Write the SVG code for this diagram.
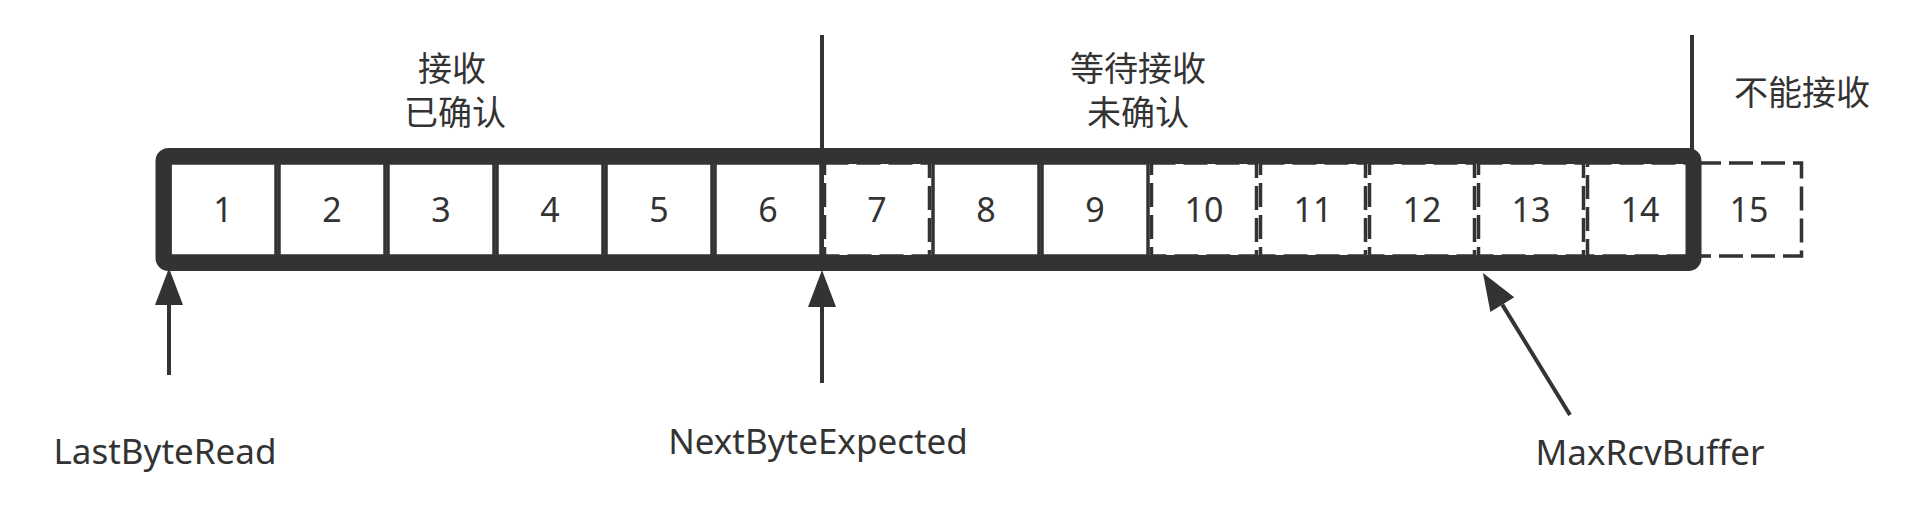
<svg xmlns="http://www.w3.org/2000/svg" width="1906" height="514" viewBox="0 0 1906 514">
<style>
  .cell{fill:#ffffff;stroke:#333333;stroke-width:3.5}
  .dash{stroke-dasharray:24 8}
  .num{font-family:"Noto Sans","Noto Sans CJK SC",sans-serif;font-size:34px;fill:#333333;text-anchor:middle}
  .cjk{font-family:"Liberation Sans","Noto Sans CJK SC",sans-serif;font-size:34px;fill:#333333;text-anchor:middle}
  .lbl{font-family:"Noto Sans","Noto Sans CJK SC",sans-serif;font-size:35px;fill:#333333;text-anchor:middle}
  .ln{stroke:#333333;stroke-width:4;fill:none}
  .arr{stroke:#333333;stroke-width:4;fill:none;marker-end:url(#head)}
</style>
<defs>
  <marker id="head" markerUnits="userSpaceOnUse" markerWidth="40" markerHeight="30" refX="0" refY="14" orient="auto" overflow="visible">
    <path d="M0,0 L37,14 L0,28 Z" fill="#333333"/>
  </marker>
</defs>
<rect width="1906" height="514" fill="#ffffff"/>

<g id="cells">
  <g id="cell1"><rect class="cell" x="170" y="163" width="106" height="93"/><text class="num" x="223" y="222">1</text></g>
  <g id="cell2"><rect class="cell" x="279" y="163" width="106" height="93"/><text class="num" x="332" y="222">2</text></g>
  <g id="cell3"><rect class="cell" x="388" y="163" width="106" height="93"/><text class="num" x="441" y="222">3</text></g>
  <g id="cell4"><rect class="cell" x="497" y="163" width="106" height="93"/><text class="num" x="550" y="222">4</text></g>
  <g id="cell5"><rect class="cell" x="606" y="163" width="106" height="93"/><text class="num" x="659" y="222">5</text></g>
  <g id="cell6"><rect class="cell" x="715" y="163" width="106" height="93"/><text class="num" x="768" y="222">6</text></g>
  <g id="cell7"><rect class="cell dash" x="824.5" y="163" width="105" height="93"/><text class="num" x="877" y="222">7</text></g>
  <g id="cell8"><rect class="cell" x="933" y="163" width="106" height="93"/><text class="num" x="986" y="222">8</text></g>
  <g id="cell9"><rect class="cell" x="1042" y="163" width="106" height="93"/><text class="num" x="1095" y="222">9</text></g>
  <g id="cell10"><rect class="cell dash" x="1151.5" y="163" width="105" height="93"/><text class="num" x="1204" y="222">10</text></g>
  <g id="cell11"><rect class="cell dash" x="1260.5" y="163" width="105" height="93"/><text class="num" x="1313" y="222">11</text></g>
  <g id="cell12"><rect class="cell dash" x="1369.5" y="163" width="105" height="93"/><text class="num" x="1422" y="222">12</text></g>
  <g id="cell13"><rect class="cell dash" x="1478.5" y="163" width="105" height="93"/><text class="num" x="1531" y="222">13</text></g>
  <g id="cell14"><rect class="cell dash" x="1587.5" y="163" width="101" height="93"/><text class="num" x="1640" y="222">14</text></g>
  <g id="cell15"><rect class="cell dash" x="1697" y="163" width="104.5" height="93"/><text class="num" x="1749" y="222">15</text></g>
</g>

<g id="window">
  <rect x="163.5" y="156" width="1530" height="107" rx="5" fill="none" stroke="#333333" stroke-width="16"/>
</g>

<g id="dividers">
  <line class="ln" x1="822" y1="35" x2="822" y2="263"/>
  <line class="ln" x1="1692" y1="35" x2="1692" y2="156"/>
</g>

<g id="region-labels">
  <g id="received"><text class="cjk" x="452" y="81">接收</text><text class="cjk" x="455" y="125">已确认</text></g>
  <g id="waiting"><text class="cjk" x="1138" y="81">等待接收</text><text class="cjk" x="1138" y="125">未确认</text></g>
  <g id="cannot"><text class="cjk" x="1802" y="105">不能接收</text></g>
</g>

<g id="connectors">
  <line class="arr" x1="169" y1="375" x2="169" y2="305"/>
  <line class="arr" x1="822" y1="383" x2="822" y2="307"/>
  <line class="arr" x1="1570" y1="415" x2="1502.3" y2="304.6"/>
</g>

<g id="pointer-labels">
  <text id="lastbyteread" class="lbl" x="165" y="464">LastByteRead</text>
  <text id="nextbyteexpected" class="lbl" x="818" y="454">NextByteExpected</text>
  <text id="maxrcvbuffer" class="lbl" x="1650" y="465">MaxRcvBuffer</text>
</g>
</svg>
